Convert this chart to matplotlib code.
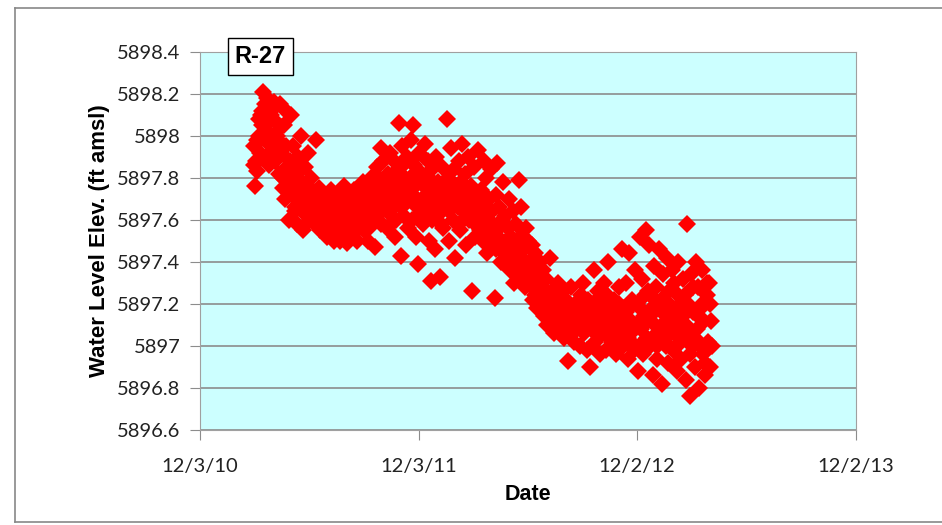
import numpy as np
import matplotlib.pyplot as plt
from matplotlib.lines import Line2D

plt.rcParams['font.family'] = ['Lato', 'DejaVu Sans']

# days since 12/3/10; readings every 2 days inside each 20-day block
block_start = [90, 110, 130, 150, 170, 190, 210, 230, 250, 270,
               290, 310, 330, 350, 370, 390, 410, 430, 450, 470,
               490, 510, 530, 550, 570, 590, 610, 630, 650, 670,
               690, 710, 730, 750, 770, 790, 810, 830, 850]
block_vals = [
    [5897.95, 5897.76, 5897.88, 5897.83, 5898.00, 5897.92, 5898.10, 5898.05, 5898.21, 5898.15],
    [5897.90, 5898.18, 5898.02, 5897.86, 5898.12, 5897.95, 5898.08, 5898.16, 5897.88, 5898.00],
    [5897.98, 5897.82, 5898.15, 5897.92, 5897.75, 5898.05, 5897.70, 5898.12, 5897.85, 5897.60],
    [5897.88, 5898.10, 5897.72, 5897.95, 5897.66, 5897.82, 5897.58, 5897.90, 5897.70, 5898.00],
    [5897.78, 5897.55, 5897.68, 5897.85, 5897.62, 5897.92, 5897.72, 5897.60, 5897.80, 5897.66],
    [5897.70, 5897.58, 5897.98, 5897.64, 5897.75, 5897.55, 5897.68, 5897.62, 5897.72, 5897.58],
    [5897.62, 5897.52, 5897.68, 5897.58, 5897.74, 5897.55, 5897.65, 5897.50, 5897.70, 5897.60],
    [5897.56, 5897.72, 5897.50, 5897.64, 5897.60, 5897.76, 5897.53, 5897.67, 5897.49, 5897.62],
    [5897.70, 5897.58, 5897.64, 5897.52, 5897.74, 5897.61, 5897.50, 5897.68, 5897.56, 5897.72],
    [5897.64, 5897.78, 5897.55, 5897.70, 5897.62, 5897.50, 5897.75, 5897.66, 5897.80, 5897.58],
    [5897.72, 5897.47, 5897.68, 5897.85, 5897.60, 5897.76, 5897.94, 5897.64, 5897.88, 5897.70],
    [5897.78, 5897.56, 5897.82, 5897.66, 5897.92, 5897.62, 5897.74, 5897.88, 5897.52, 5897.70],
    [5897.84, 5898.06, 5897.72, 5897.43, 5897.95, 5897.62, 5897.80, 5897.68, 5897.90, 5897.56],
    [5897.74, 5897.98, 5897.60, 5898.05, 5897.86, 5897.52, 5897.70, 5897.39, 5897.92, 5897.66],
    [5897.82, 5897.58, 5897.76, 5897.96, 5897.64, 5897.88, 5897.50, 5897.72, 5897.31, 5897.84],
    [5897.70, 5897.46, 5897.90, 5897.62, 5897.78, 5897.33, 5897.68, 5897.85, 5897.56, 5897.74],
    [5897.66, 5898.08, 5897.80, 5897.50, 5897.72, 5897.94, 5897.60, 5897.84, 5897.42, 5897.76],
    [5897.70, 5897.88, 5897.55, 5897.78, 5897.96, 5897.64, 5897.82, 5897.48, 5897.74, 5897.90],
    [5897.60, 5897.76, 5897.26, 5897.68, 5897.85, 5897.52, 5897.72, 5897.93, 5897.58, 5897.66],
    [5897.74, 5897.50, 5897.88, 5897.62, 5897.80, 5897.44, 5897.70, 5897.56, 5897.84, 5897.64],
    [5897.58, 5897.23, 5897.72, 5897.87, 5897.52, 5897.66, 5897.40, 5897.60, 5897.78, 5897.48],
    [5897.62, 5897.44, 5897.56, 5897.70, 5897.36, 5897.52, 5897.64, 5897.30, 5897.48, 5897.58],
    [5897.42, 5897.79, 5897.52, 5897.66, 5897.34, 5897.46, 5897.28, 5897.56, 5897.38, 5897.50],
    [5897.40, 5897.30, 5897.48, 5897.22, 5897.36, 5897.44, 5897.18, 5897.32, 5897.26, 5897.40],
    [5897.28, 5897.36, 5897.14, 5897.24, 5897.32, 5897.10, 5897.20, 5897.42, 5897.16, 5897.26],
    [5897.18, 5897.06, 5897.24, 5897.12, 5897.30, 5897.08, 5897.20, 5897.14, 5897.26, 5897.04],
    [5897.12, 5897.22, 5896.93, 5897.16, 5897.06, 5897.28, 5897.10, 5897.02, 5897.20, 5897.14],
    [5897.08, 5897.18, 5897.00, 5897.24, 5897.12, 5897.30, 5897.06, 5897.16, 5896.98, 5897.22],
    [5897.14, 5896.90, 5897.20, 5897.08, 5897.36, 5897.02, 5897.16, 5897.26, 5897.10, 5896.96],
    [5897.18, 5897.06, 5897.30, 5897.12, 5896.98, 5897.24, 5897.40, 5897.08, 5897.20, 5897.02],
    [5897.10, 5897.22, 5896.96, 5897.16, 5897.04, 5897.28, 5897.12, 5897.46, 5897.00, 5897.18],
    [5897.06, 5897.30, 5896.94, 5897.44, 5897.12, 5897.02, 5897.22, 5896.98, 5897.36, 5897.10],
    [5897.20, 5896.88, 5897.52, 5897.08, 5897.32, 5896.96, 5897.14, 5897.55, 5897.04, 5897.26],
    [5897.48, 5897.00, 5897.18, 5896.86, 5897.38, 5897.10, 5897.28, 5896.94, 5897.46, 5897.06],
    [5897.22, 5896.82, 5897.34, 5897.02, 5897.14, 5897.42, 5896.92, 5897.26, 5897.08, 5897.36],
    [5896.98, 5897.30, 5897.12, 5896.88, 5897.40, 5897.04, 5897.20, 5896.94, 5897.32, 5897.10],
    [5897.24, 5896.84, 5897.58, 5897.06, 5896.76, 5897.34, 5897.00, 5897.16, 5896.90, 5897.40],
    [5897.08, 5897.28, 5896.80, 5897.18, 5897.36, 5896.96, 5897.12, 5896.86, 5897.24, 5897.02],
    [5897.30, 5896.90, 5897.12],
]
# extra readings on odd days (every 4 days) inside each block
odd_vals = [
    [5897.86, 5897.98, 5898.08, 5898.12, 5898.02],
    [5898.05, 5897.96, 5898.10, 5898.00, 5897.92],
    [5897.90, 5898.04, 5897.80, 5897.95, 5897.78],
    [5897.78, 5897.86, 5897.64, 5897.74, 5897.84],
    [5897.70, 5897.64, 5897.76, 5897.68, 5897.74],
    [5897.66, 5897.72, 5897.60, 5897.66, 5897.70],
    [5897.58, 5897.66, 5897.62, 5897.56, 5897.64],
    [5897.58, 5897.66, 5897.55, 5897.70, 5897.58],
    [5897.62, 5897.66, 5897.56, 5897.65, 5897.60],
    [5897.68, 5897.60, 5897.72, 5897.56, 5897.70],
    [5897.66, 5897.74, 5897.80, 5897.58, 5897.78],
    [5897.70, 5897.64, 5897.80, 5897.72, 5897.60],
    [5897.76, 5897.66, 5897.86, 5897.70, 5897.74],
    [5897.80, 5897.68, 5897.76, 5897.62, 5897.82],
    [5897.70, 5897.78, 5897.66, 5897.80, 5897.60],
    [5897.64, 5897.76, 5897.70, 5897.58, 5897.66],
    [5897.72, 5897.64, 5897.78, 5897.68, 5897.70],
    [5897.66, 5897.74, 5897.60, 5897.70, 5897.62],
    [5897.64, 5897.70, 5897.58, 5897.62, 5897.55],
    [5897.60, 5897.66, 5897.54, 5897.58, 5897.50],
    [5897.54, 5897.46, 5897.56, 5897.50, 5897.44],
    [5897.50, 5897.40, 5897.46, 5897.42, 5897.38],
    [5897.40, 5897.44, 5897.34, 5897.40, 5897.30],
    [5897.32, 5897.28, 5897.24, 5897.30, 5897.20],
    [5897.22, 5897.18, 5897.26, 5897.14, 5897.20],
    [5897.14, 5897.20, 5897.10, 5897.16, 5897.12],
    [5897.10, 5897.16, 5897.08, 5897.12, 5897.18],
    [5897.14, 5897.10, 5897.20, 5897.08, 5897.16],
    [5897.12, 5897.18, 5897.06, 5897.22, 5897.14],
    [5897.10, 5897.14, 5897.22, 5897.04, 5897.16],
    [5897.08, 5897.14, 5897.20, 5897.06, 5897.10],
    [5897.16, 5897.04, 5897.12, 5897.20, 5897.08],
    [5897.10, 5897.18, 5897.02, 5897.24, 5897.12],
    [5897.14, 5897.04, 5897.22, 5897.00, 5897.18],
    [5897.10, 5897.18, 5897.00, 5897.20, 5897.06],
    [5897.16, 5897.06, 5897.24, 5897.02, 5897.14],
    [5897.10, 5897.20, 5896.96, 5897.28, 5897.04],
    [5897.14, 5897.00, 5897.20, 5896.92, 5897.30],
    [5897.20, 5897.00],
]

tick_days = [0, 365, 730, 1095]
tick_labels = ['12/3/10', '12/3/11', '12/2/12', '12/2/13']

days = []
elev = []
for start, vals, extra in zip(block_start, block_vals, odd_vals):
    for i, v in enumerate(vals):
        days.append(start + 2 * i)
        elev.append(v)
    for i, v in enumerate(extra):
        days.append(start + 1 + 4 * i)
        elev.append(v)

fig = plt.figure(figsize=(9.42, 5.25), dpi=100)
ax = fig.add_axes([0.2123, 0.181, 0.6961, 0.7205])
ax.set_facecolor('#CCFFFF')

ax.plot(days, elev, linestyle='none', marker='D', markersize=8.8,
        color='#FF0000', markeredgewidth=0)

ax.set_xlim(0, 1095)
ax.set_ylim(5896.6, 5898.4)
ax.set_xticks(tick_days)
ax.set_xticklabels(tick_labels)
ax.set_yticks(np.arange(5896.6, 5898.41, 0.2))
ax.set_yticklabels(['5896.6', '5896.8', '5897', '5897.2', '5897.4',
                    '5897.6', '5897.8', '5898', '5898.2', '5898.4'])
ax.yaxis.grid(True, color='#8c8c8c', linewidth=1.2)
ax.set_axisbelow(True)
ax.tick_params(length=7, color='#8c8c8c', colors='#222222')
ax.tick_params(axis='y', labelsize=14.5, pad=7)
ax.tick_params(axis='x', labelsize=14.5, pad=13)
for s in ax.spines.values():
    s.set_color('#a0a0a0')

ax.set_xlabel('Date', fontsize=15.5, fontweight='bold',
              family=['Liberation Sans'], labelpad=7)
ax.set_ylabel('Water Level Elev. (ft amsl)', fontsize=16, fontweight='bold',
              family=['Liberation Sans'], labelpad=5)

ax.text(0.053, 0.987, 'R-27', transform=ax.transAxes, fontsize=17,
        fontweight='bold', family=['Liberation Sans'], va='center', ha='left',
        bbox=dict(boxstyle='square,pad=0.3', facecolor='white',
                  edgecolor='black', linewidth=1))

# outer chart border
for xs, ys in [([15/942, 15/942], [3/525, 517/525]),
               ([15/942, 1.0], [517/525, 517/525]),
               ([15/942, 1.0], [3/525, 3/525])]:
    fig.add_artist(Line2D(xs, ys, color='#888888', linewidth=1.2))

fig.savefig('out.png', dpi=100)
